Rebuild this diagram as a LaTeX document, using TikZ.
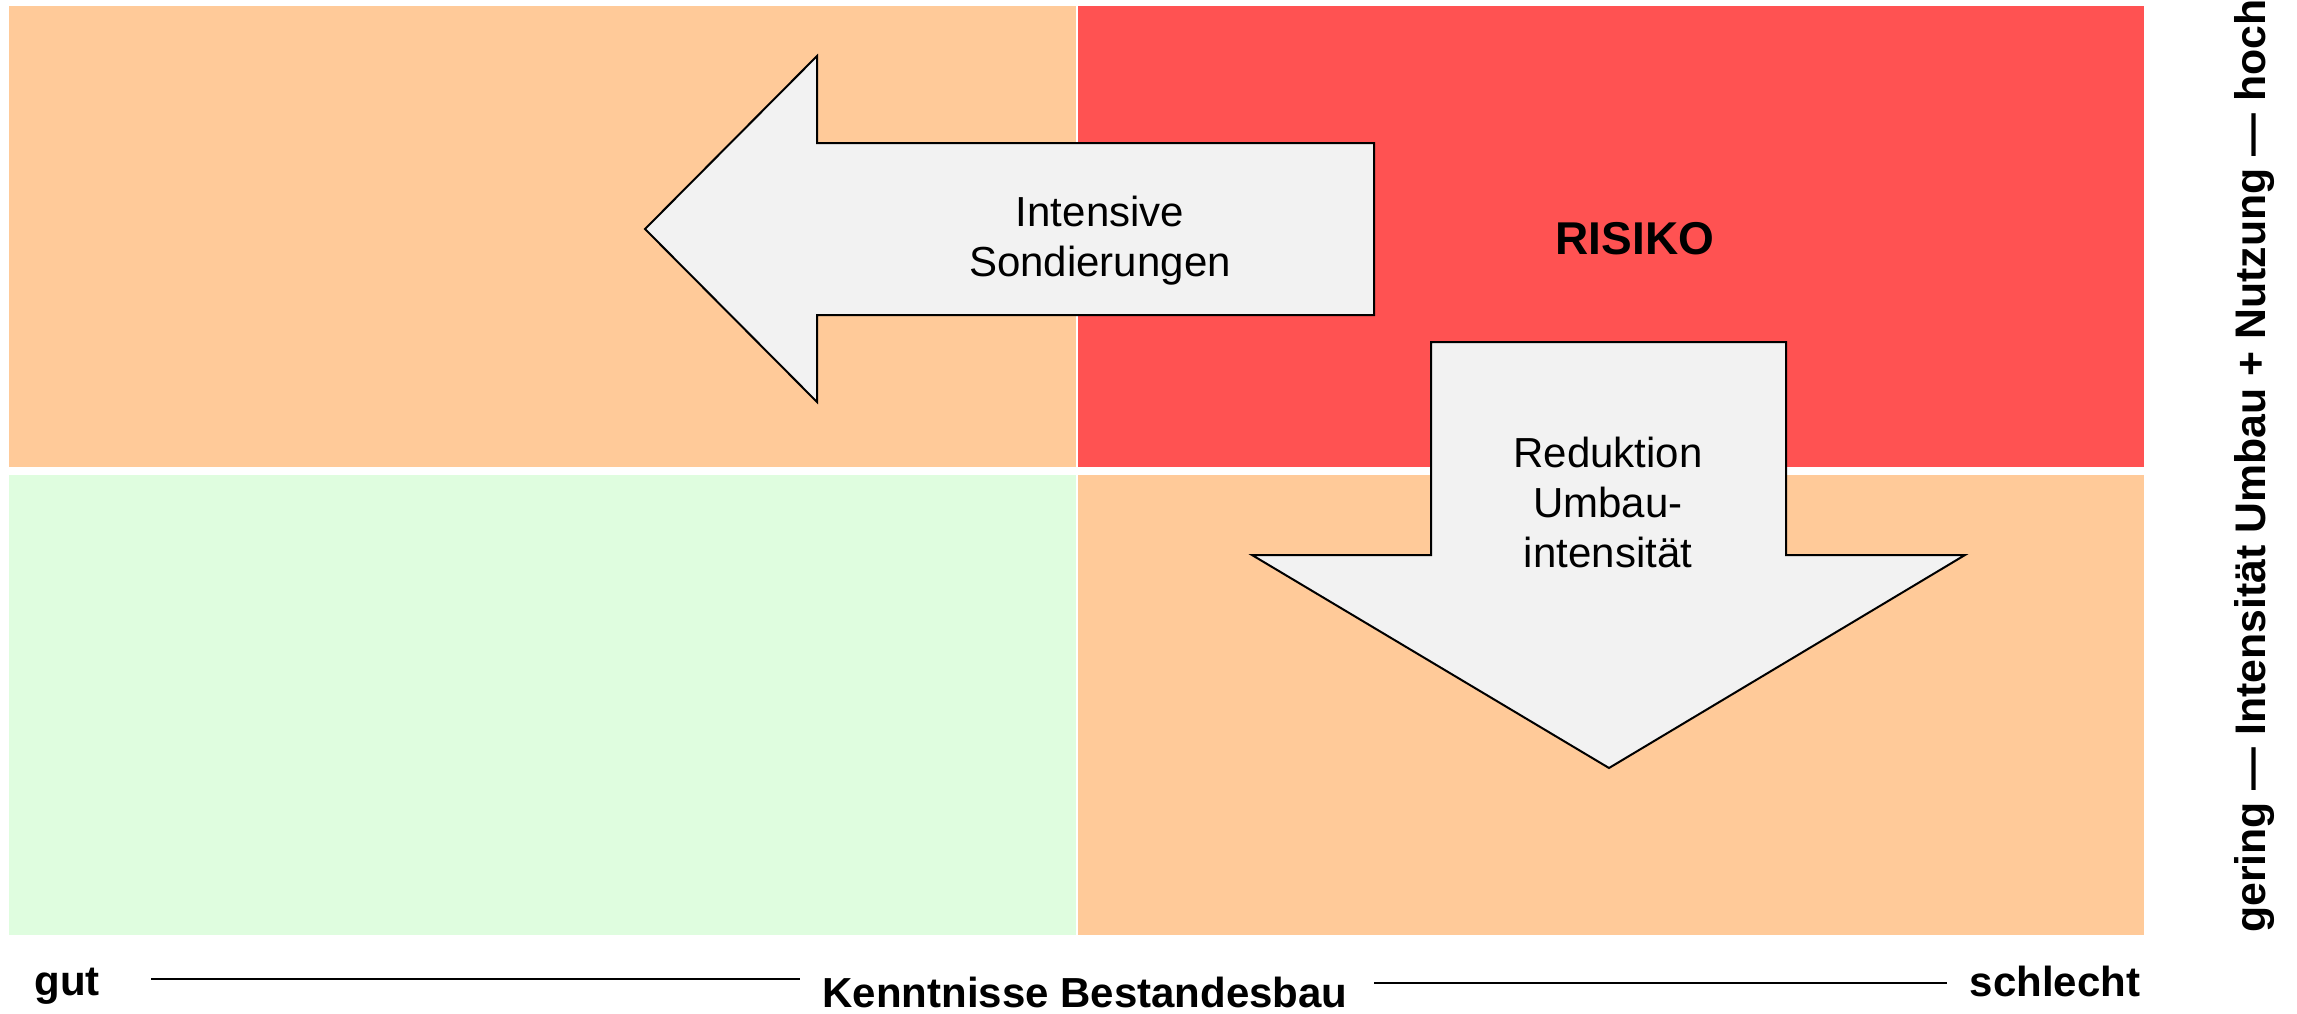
\documentclass[tikz,border=0pt]{standalone}
\usepackage{fontspec}
\setmainfont{Liberation Sans}
\definecolor{qorange}{HTML}{FFCA99}
\definecolor{qred}{HTML}{FF5252}
\definecolor{qgreen}{HTML}{DFFDDF}
\definecolor{arrfill}{HTML}{F2F2F2}
\tikzset{
  bigarrow/.style={fill=arrfill, draw=black, line width=1pt, line join=miter},
  arrtext/.style={align=center, inner sep=0pt, font=\fontsize{21}{25}\selectfont},
  axistext/.style={inner sep=0pt, anchor=base, font=\fontsize{21}{25}\selectfont\bfseries},
  axisline/.style={draw=black, line width=1pt},
}
\begin{document}
\begin{tikzpicture}[x=0.5pt, y=-0.5pt]
\useasboundingbox (0,0) rectangle (2297,1013);
\fill[white] (0,0) rectangle (2297,1013);
% quadrants
\fill[qorange] (9,6) rectangle (1076,467);
\fill[qred] (1078,6) rectangle (2144,467);
\fill[qgreen] (9,475) rectangle (1076,935);
\fill[qorange] (1078,475) rectangle (2144,935);
% left arrow
\draw[bigarrow] (645,229) -- (817,56) -- (817,143) -- (1374,143) -- (1374,315) -- (817,315) -- (817,402) -- cycle;
\node[arrtext] (sond) at (1100,241) {Intensive\\Sondierungen};
% down arrow
\draw[bigarrow] (1431,342) -- (1786,342) -- (1786,555) -- (1965,555) -- (1609,768) -- (1252,555) -- (1431,555) -- cycle;
\node[arrtext] (redu) at (1608,502) {Reduktion\\Umbau-\\intensität};
% risiko
\node[inner sep=0pt, font=\fontsize{23}{27}\selectfont\bfseries] (risiko) at (1635,239) {RISIKO};
% bottom axis
\node[axistext] (gut) at (67,995) {gut};
\node[axistext] (kennt) at (1085,1007) {Kenntnisse Bestandesbau};
\node[axistext] (schlecht) at (2055,996) {schlecht};
\coordinate (l1a) at (151,979);
\coordinate (l1b) at (800,979);
\coordinate (l2a) at (1374,983);
\coordinate (l2b) at (1947,983);
\draw[axisline] (l1a) -- (l1b);
\draw[axisline] (l2a) -- (l2b);
% vertical axis
\node[axistext, rotate=90, font=\fontsize{21.4}{25}\selectfont\bfseries] (vert) at (2265,466) {gering — Intensität Umbau + Nutzung — hoch};
\end{tikzpicture}
\end{document}
